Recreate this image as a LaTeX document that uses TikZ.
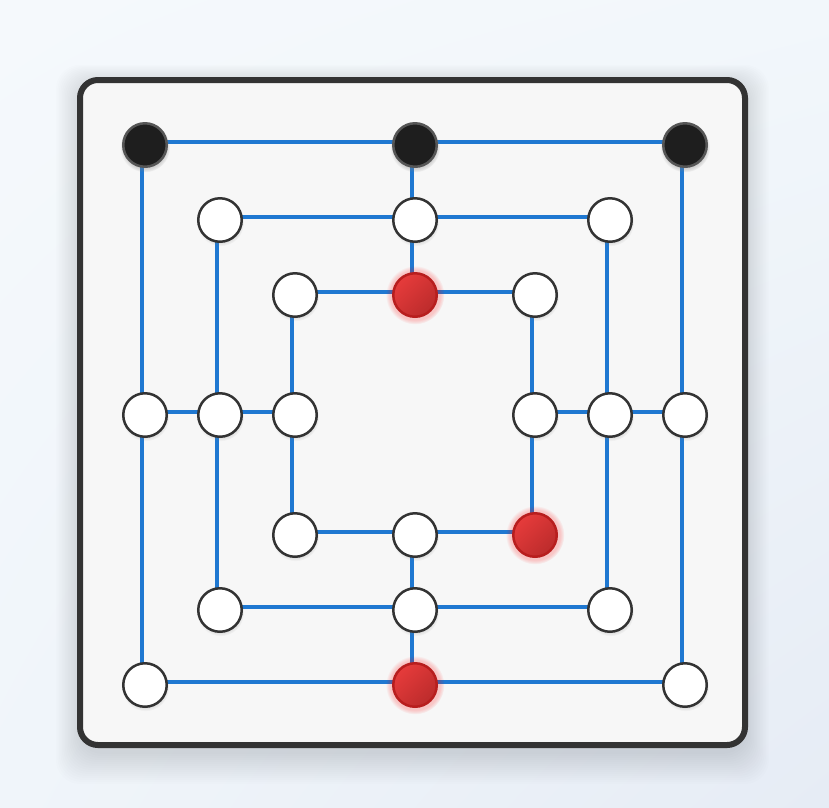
\documentclass[tikz,border=0pt]{standalone}
\usetikzlibrary{shadows,shadings,fadings}
\definecolor{trackblue}{HTML}{1F78D1}
\definecolor{rimgray}{HTML}{333333}
\definecolor{boardfill}{HTML}{F7F7F7}
\definecolor{redpiece}{HTML}{E53535}
\definecolor{redrim}{HTML}{B81E1E}
\definecolor{blackpiece}{HTML}{1E1E1E}
\definecolor{blackrim}{HTML}{565656}
\definecolor{bgul}{HTML}{F5F9FC}
\definecolor{bgur}{HTML}{F2F7FB}
\definecolor{bgll}{HTML}{F0F5FA}
\definecolor{bglr}{HTML}{E6ECF5}
\pgfdeclarelayer{bg}
\pgfdeclarelayer{lines}
\pgfsetlayers{bg,lines,main}
\tikzset{
    track/.style={trackblue, line width=4pt, transform canvas={shift={(-3.5pt,3.5pt)}}},
    pc/.style={circle, inner sep=0pt, minimum size=43.5pt, line width=2.5pt, draw},
    pcwhite/.style={pc, fill=white, draw=rimgray,
        circular drop shadow={shadow xshift=0.5pt, shadow yshift=-2.5pt, shadow scale=1.08, opacity=.18}},
    pcblack/.style={pc, fill=blackpiece, draw=blackrim,
        circular drop shadow={shadow xshift=0pt, shadow yshift=-2pt, shadow scale=1.15, opacity=.3}},
    pcred/.style={pc, draw=redrim, left color=redpiece!97!white, right color=redpiece!82!black, shading angle=45,
        circular glow={fill=red, opacity=.2, shadow scale=1.35}}
}
\begin{document}
\begin{tikzpicture}[x=1pt, y=-1pt]
    \useasboundingbox (0,0) rectangle (829,807);
    
    \begin{pgfonlayer}{bg}
        \shade[upper left=bgul, upper right=bgur, lower left=bgll, lower right=bglr] (0,0) rectangle (829,807);
        % soft shadow under the board
        \foreach \k in {1,...,16} {
            \fill[black, opacity=.008, rounded corners=24pt] (80-\k*1.5,84-\k*1.2) rectangle (745+\k*1.5,752+\k*2);
        }
        \draw[rimgray, line width=6pt, fill=boardfill, rounded corners=18pt] (80,80) rectangle (745,745);
    \end{pgfonlayer}
    
    % points of the three squares
    \foreach \n/\x/\y/\s in {
        o1/145/145/pcblack, o2/415/145/pcblack, o3/685/145/pcblack, o4/685/415/pcwhite,
        o5/685/685/pcwhite, o6/415/685/pcred, o7/145/685/pcwhite, o8/145/415/pcwhite,
        m1/220/220/pcwhite, m2/415/220/pcwhite, m3/610/220/pcwhite, m4/610/415/pcwhite,
        m5/610/610/pcwhite, m6/415/610/pcwhite, m7/220/610/pcwhite, m8/220/415/pcwhite,
        i1/295/295/pcwhite, i2/415/295/pcred, i3/535/295/pcwhite, i4/535/415/pcwhite,
        i5/535/535/pcred, i6/415/535/pcwhite, i7/295/535/pcwhite, i8/295/415/pcwhite} {
        \node[\s] (\n) at (\x,\y) {};
    }
    
    \begin{pgfonlayer}{lines}
        \foreach \r in {o,m,i} {
            \draw[track] (\r1.center) -- (\r3.center) -- (\r5.center) -- (\r7.center) -- cycle;
        }
        \draw[track] (o2.center) -- (i2.center);
        \draw[track] (i6.center) -- (o6.center);
        \draw[track] (o8.center) -- (i8.center);
        \draw[track] (i4.center) -- (o4.center);
    \end{pgfonlayer}
\end{tikzpicture}
\end{document}
